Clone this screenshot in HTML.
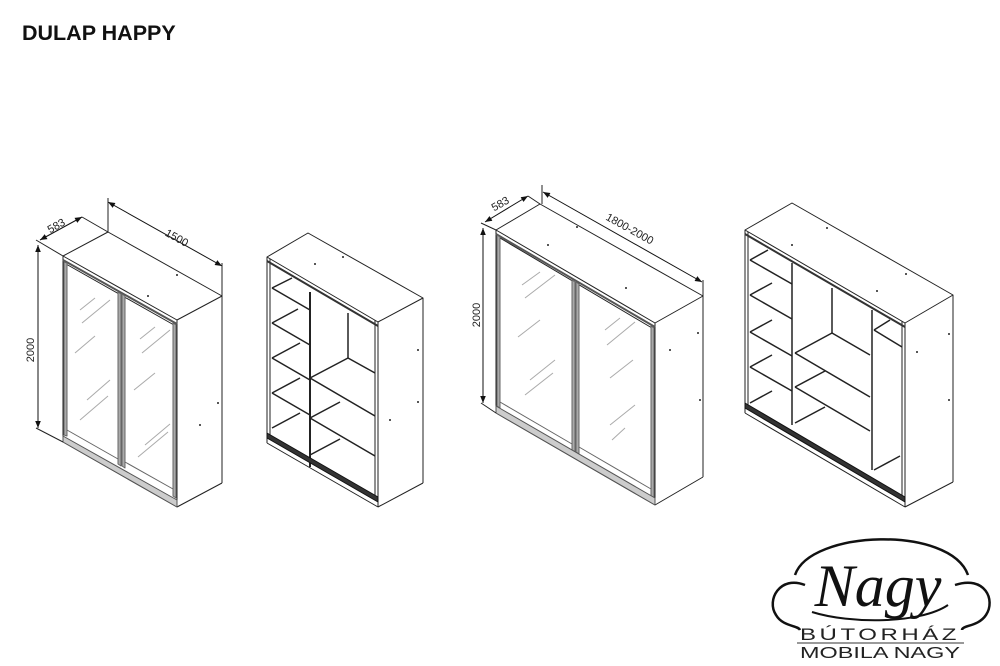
<!DOCTYPE html>
<html><head><meta charset="utf-8"><style>
html,body{margin:0;padding:0;background:#fff}
svg{display:block}
</style></head><body>
<svg width="1000" height="666" viewBox="0 0 1000 666" xmlns="http://www.w3.org/2000/svg" font-family="Liberation Sans, sans-serif">
<defs>
<marker id="ar" viewBox="0 0 10 10" refX="10" refY="5" markerWidth="7" markerHeight="7" orient="auto-start-reverse"><path d="M0,1 L10,5 L0,9 z" fill="#111"/></marker>
</defs>
<rect width="1000" height="666" fill="#fff"/>
<text x="22" y="40" font-size="21.5" font-weight="bold" fill="#111">DULAP HAPPY</text>

<g fill="none" stroke="#222" stroke-width="1" stroke-linejoin="round">
<!-- ===== Wardrobe 1 (doors) ===== -->
<polygon points="63,256 108,232 222,296 177,320" fill="#fff"/>
<line x1="63" y1="256" x2="63" y2="442"/>
<line x1="177" y1="320" x2="177" y2="507"/>
<line x1="222" y1="296" x2="222" y2="483"/>
<line x1="177" y1="507" x2="222" y2="483"/>
<line x1="63" y1="442" x2="177" y2="507"/>
<line x1="63" y1="260" x2="177" y2="324" stroke="#555" stroke-width="2"/>
<line x1="66" y1="264" x2="174" y2="325"/>
<polygon points="64,262 67,263 67,436 64,435" fill="#aaa" stroke="#666"/>
<polygon points="118,292 121,294 121,466 118,464" fill="#aaa" stroke="#666"/>
<polygon points="122,294 125,296 125,468 122,466" fill="#aaa" stroke="#666"/>
<polygon points="173,323 176,325 176,498 173,496" fill="#aaa" stroke="#666"/>
<line x1="67" y1="430" x2="118" y2="459" stroke="#666"/>
<line x1="125" y1="462" x2="173" y2="489" stroke="#666"/>
<polygon points="63,436 177,500 177,507 63,442" fill="#ccc" stroke="#555"/>
<g stroke="#aaa">
<line x1="80" y1="310" x2="95" y2="298"/><line x1="82" y1="323" x2="110" y2="300"/>
<line x1="75" y1="353" x2="95" y2="336"/>
<line x1="87" y1="400" x2="110" y2="380"/><line x1="80" y1="420" x2="108" y2="396"/>
<line x1="140" y1="339" x2="155" y2="327"/><line x1="142" y1="353" x2="170" y2="330"/>
<line x1="134" y1="390" x2="155" y2="373"/>
<line x1="145" y1="445" x2="170" y2="424"/><line x1="138" y1="457" x2="168" y2="432"/>
</g>
<line x1="38" y1="245" x2="38" y2="428" stroke="#111" marker-start="url(#ar)" marker-end="url(#ar)"/>
<line x1="36" y1="240" x2="63" y2="256"/>
<line x1="36" y1="428" x2="63" y2="442"/>
<line x1="40" y1="240" x2="82" y2="217" stroke="#111" marker-start="url(#ar)" marker-end="url(#ar)"/>
<line x1="82" y1="217" x2="108" y2="232"/>
<line x1="108" y1="202" x2="222" y2="266" stroke="#111" marker-start="url(#ar)" marker-end="url(#ar)"/>
<line x1="108" y1="198" x2="108" y2="232"/>
<line x1="222" y1="263" x2="222" y2="296"/>

<!-- ===== Wardrobe 2 (open small) ===== -->
<polygon points="267,257 308,233 423,298 378,322" fill="#fff"/>
<line x1="267" y1="257" x2="267" y2="443"/>
<line x1="270" y1="259" x2="270" y2="435"/>
<line x1="378" y1="322" x2="378" y2="507"/>
<line x1="375" y1="320" x2="375" y2="497"/>
<line x1="423" y1="298" x2="423" y2="483"/>
<line x1="378" y1="507" x2="423" y2="483"/>
<line x1="267" y1="443" x2="378" y2="507"/>
<line x1="267" y1="261" x2="378" y2="326" stroke="#333" stroke-width="2"/>
<line x1="310" y1="292" x2="310" y2="467" stroke="#222" stroke-width="2"/>
<g stroke="#222" stroke-width="1.5">
<line x1="272" y1="288" x2="310" y2="310"/><line x1="272" y1="288" x2="292" y2="278"/>
<line x1="272" y1="323" x2="310" y2="345"/><line x1="272" y1="323" x2="298" y2="309"/>
<line x1="272" y1="358" x2="310" y2="380"/><line x1="272" y1="358" x2="300" y2="343"/>
<line x1="272" y1="393" x2="310" y2="415"/><line x1="272" y1="393" x2="300" y2="378"/>
<line x1="272" y1="428" x2="300" y2="413"/>
<line x1="348" y1="313" x2="348" y2="358"/>
<line x1="310" y1="378" x2="375" y2="416"/><line x1="310" y1="378" x2="348" y2="358"/><line x1="348" y1="358" x2="375" y2="373"/>
<line x1="310" y1="418" x2="375" y2="456"/><line x1="310" y1="418" x2="340" y2="402"/>
<line x1="310" y1="455" x2="340" y2="439"/>
</g>
<polygon points="267,433 378,497 378,502 267,438" fill="#333" stroke="#111"/>

<!-- ===== Wardrobe 3 (doors large) ===== -->
<polygon points="496,230 540,204 703,296 655,323" fill="#fff"/>
<line x1="496" y1="230" x2="496" y2="413"/>
<line x1="655" y1="323" x2="655" y2="505"/>
<line x1="703" y1="296" x2="703" y2="477"/>
<line x1="655" y1="505" x2="703" y2="477"/>
<line x1="496" y1="413" x2="655" y2="505"/>
<line x1="496" y1="234" x2="655" y2="327" stroke="#555" stroke-width="2"/>
<line x1="500" y1="238" x2="652" y2="328"/>
<polygon points="497,235 500,237 500,408 497,406" fill="#aaa" stroke="#666"/>
<polygon points="572,280 575,282 575,452 572,450" fill="#aaa" stroke="#666"/>
<polygon points="576,282 579,284 579,454 576,452" fill="#aaa" stroke="#666"/>
<polygon points="651,326 654,328 654,498 651,496" fill="#aaa" stroke="#666"/>
<line x1="500" y1="402" x2="572" y2="444" stroke="#666"/>
<line x1="579" y1="447" x2="651" y2="489" stroke="#666"/>
<polygon points="496,406 655,498 655,505 496,413" fill="#ccc" stroke="#555"/>
<g stroke="#aaa">
<line x1="522" y1="285" x2="540" y2="272"/><line x1="525" y1="298" x2="555" y2="275"/>
<line x1="518" y1="337" x2="540" y2="320"/>
<line x1="530" y1="380" x2="555" y2="360"/><line x1="525" y1="395" x2="553" y2="373"/>
<line x1="605" y1="330" x2="620" y2="318"/><line x1="607" y1="345" x2="635" y2="322"/>
<line x1="610" y1="378" x2="633" y2="360"/>
<line x1="610" y1="425" x2="635" y2="405"/><line x1="612" y1="440" x2="625" y2="428"/>
</g>
<line x1="483" y1="228" x2="483" y2="403" stroke="#111" marker-start="url(#ar)" marker-end="url(#ar)"/>
<line x1="481" y1="223" x2="496" y2="230"/>
<line x1="481" y1="403" x2="496" y2="413"/>
<line x1="485" y1="222" x2="528" y2="196" stroke="#111" marker-start="url(#ar)" marker-end="url(#ar)"/>
<line x1="528" y1="196" x2="540" y2="204"/>
<line x1="543" y1="192" x2="702" y2="282" stroke="#111" marker-start="url(#ar)" marker-end="url(#ar)"/>
<line x1="542" y1="185" x2="542" y2="204"/>
<line x1="703" y1="280" x2="703" y2="296"/>

<!-- ===== Wardrobe 4 (open large) ===== -->
<polygon points="745,230 792,203 953,295 905,323" fill="#fff"/>
<line x1="745" y1="230" x2="745" y2="413"/>
<line x1="748" y1="232" x2="748" y2="405"/>
<line x1="905" y1="323" x2="905" y2="507"/>
<line x1="902" y1="321" x2="902" y2="497"/>
<line x1="953" y1="295" x2="953" y2="482"/>
<line x1="905" y1="507" x2="953" y2="482"/>
<line x1="745" y1="413" x2="905" y2="507"/>
<line x1="745" y1="234" x2="905" y2="327" stroke="#333" stroke-width="2"/>
<g stroke="#222" stroke-width="1.5">
<line x1="792" y1="263" x2="792" y2="425"/>
<line x1="872" y1="310" x2="872" y2="470"/>
<line x1="750" y1="260" x2="792" y2="284"/><line x1="750" y1="260" x2="768" y2="250"/>
<line x1="750" y1="295" x2="792" y2="319"/><line x1="750" y1="295" x2="772" y2="283"/>
<line x1="750" y1="332" x2="792" y2="356"/><line x1="750" y1="332" x2="772" y2="320"/>
<line x1="750" y1="367" x2="792" y2="391"/><line x1="750" y1="367" x2="772" y2="355"/>
<line x1="750" y1="403" x2="772" y2="391"/>
<line x1="832" y1="288" x2="832" y2="333"/>
<line x1="795" y1="353" x2="870" y2="397"/><line x1="795" y1="353" x2="832" y2="333"/><line x1="832" y1="333" x2="870" y2="355"/>
<line x1="795" y1="387" x2="870" y2="431"/><line x1="795" y1="387" x2="825" y2="371"/>
<line x1="795" y1="423" x2="825" y2="407"/>
<line x1="874" y1="330" x2="902" y2="347"/><line x1="874" y1="330" x2="890" y2="320"/>
<line x1="874" y1="470" x2="900" y2="456"/>
</g>
<polygon points="745,403 905,497 905,502 745,408" fill="#333" stroke="#111"/>
</g>

<g fill="#222">
<circle cx="148" cy="296" r="1"/><circle cx="177" cy="275" r="1"/><circle cx="200" cy="425" r="1"/><circle cx="218" cy="403" r="1"/>
<circle cx="315" cy="264" r="1"/><circle cx="343" cy="257" r="1"/><circle cx="390" cy="420" r="1"/><circle cx="418" cy="402" r="1"/><circle cx="418" cy="350" r="1"/>
<circle cx="548" cy="245" r="1"/><circle cx="577" cy="227" r="1"/><circle cx="626" cy="288" r="1"/><circle cx="670" cy="350" r="1"/><circle cx="698" cy="333" r="1"/><circle cx="700" cy="400" r="1"/>
<circle cx="792" cy="245" r="1"/><circle cx="827" cy="228" r="1"/><circle cx="877" cy="291" r="1"/><circle cx="906" cy="274" r="1"/><circle cx="917" cy="352" r="1"/><circle cx="949" cy="334" r="1"/><circle cx="949" cy="400" r="1"/>
</g>

<g font-size="11" fill="#222">
<text transform="translate(34,350) rotate(-90)" text-anchor="middle">2000</text>
<text transform="translate(58,229) rotate(-29)" text-anchor="middle">583</text>
<text transform="translate(175,241) rotate(29)" text-anchor="middle">1500</text>
<text transform="translate(480,315) rotate(-90)" text-anchor="middle">2000</text>
<text transform="translate(502,207) rotate(-29)" text-anchor="middle">583</text>
<text transform="translate(628,232) rotate(29)" text-anchor="middle">1800-2000</text>
</g>

<!-- logo -->
<g fill="none" stroke="#111" stroke-width="2.5">
<path d="M795,575 C810,530 950,525 968,575"/>
<path d="M805,585 C780,575 766,600 776,615 C783,627 798,625 800,630"/>
<path d="M955,585 C985,575 996,600 986,615 C978,627 962,625 962,630"/>
<path d="M812,612 C850,624 920,624 948,605" stroke-width="2"/>
</g>
<text x="878" y="606" text-anchor="middle" font-family="Liberation Serif, serif" font-style="italic" font-size="60" fill="#111">Nagy</text>
<text x="880" y="640" text-anchor="middle" font-size="17" fill="#222" letter-spacing="2.5" textLength="160" lengthAdjust="spacingAndGlyphs">BÚTORHÁZ</text>
<line x1="797" y1="643" x2="964" y2="643" stroke="#333" stroke-width="1"/>
<text x="880" y="658" text-anchor="middle" font-size="16" fill="#222" textLength="160" lengthAdjust="spacingAndGlyphs">MOBILA NAGY</text>
</svg>
</body></html>
